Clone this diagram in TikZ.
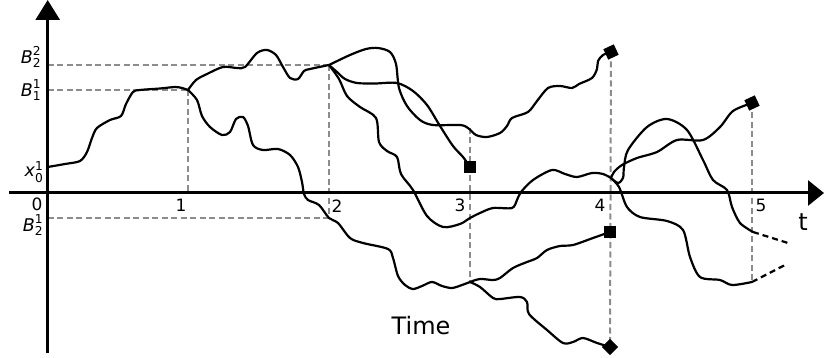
\documentclass[tikz,border=0pt]{standalone}
\usepackage{amsmath}
\usepackage{fontspec}
\setmainfont{DejaVu Sans}
\usetikzlibrary{arrows.meta}
\definecolor{guidegray}{RGB}{140,140,140}
\begin{document}
\begin{tikzpicture}[x=1pt,y=-1pt,
  guide/.style={draw=guidegray, line width=2pt, dash pattern=on 6pt off 3.5pt},
  walk/.style={draw=black, line width=2.2pt, line join=round, line cap=round},
  tail/.style={draw=black, line width=2.2pt, dash pattern=on 6pt off 4pt},
  axisline/.style={draw=black, line width=3pt},
  mk/.style={fill=black, inner sep=0pt, minimum size=11.5pt, rectangle},
  ticklbl/.style={font=\fontsize{17}{19}\selectfont, inner sep=0pt},
  ylbl/.style={font=\fontsize{17.5}{19}\selectfont, inner sep=0pt},
  biglbl/.style={font=\fontsize{24}{26}\selectfont, inner sep=0pt},
]
\useasboundingbox (0,0) rectangle (824,358);

% branch / end points
\coordinate (x0) at (47.7,167);
\coordinate (p1) at (188,90);
\coordinate (p2) at (329,65);
\coordinate (q2) at (329,218);
\coordinate (p3top) at (470,128);
\coordinate (p3low) at (470,282);
\coordinate (p4) at (611,178);
\coordinate (e5a) at (752,282);
\coordinate (e5b) at (753,232);
\coordinate (t5a) at (785,265);
\coordinate (t5b) at (788,243);
\coordinate (ax1) at (188,193);
\coordinate (yl65) at (47.7,65);
\coordinate (yl90) at (47.7,90);
\coordinate (yl218) at (47.7,218);
\coordinate (c3) at (470,167);
\coordinate (c4low) at (610,232);
\coordinate (c4bot) at (610,347);
\coordinate (c4top) at (611,52);
\coordinate (c5) at (752,103);

% guide lines
\draw[guide] (yl65) -- (p2);
\draw[guide] (yl90) -- (p1);
\draw[guide] (yl218) -- (q2);
\draw[guide] (p1) -- (ax1);
\draw[guide] (p2) -- (q2);
\draw[guide] (p3top) -- (p3low);
\draw[guide] (c4top) -- (c4bot);
\draw[guide] (c5) -- (e5a);

% axes
\coordinate (yb) at (47.7,353);
\coordinate (yt) at (47.7,0);
\coordinate (xl) at (9,193);
\coordinate (xr) at (824,193);
\draw[axisline, -{Triangle[width=24pt,length=20pt]}] (yb) -- (yt);
\draw[axisline, -{Triangle[width=25pt,length=16pt]}] (xl) -- (xr);

% path from x0 to t=1
\draw[walk] plot[smooth, tension=0.5] coordinates {
 (47.7,167) (65,164) (80,161) (87,152) (92,138) (97,128) (110,120) (121,116)
 (126,104) (133,92) (140,90) (160,88.5) (175,87) (182,88) (188,90)};

% t=1 upper branch to t=2
\draw[walk] plot[smooth, tension=0.5] coordinates {
 (188,90) (196,80) (207,74) (223,67) (237,68) (245,67) (257,53) (267,50)
 (276,55) (283,67) (290,78) (298,79) (304,71) (310,69) (329,65)};

% t=1 lower branch
\draw[walk] plot[smooth, tension=0.5] coordinates {
 (188,90) (197,100) (202,116) (210,127) (222,135) (230,132) (236,119) (243,117)
 (248,126) (253,145) (263,150) (278,149) (290,155) (298,167) (302,182) (304,194)
 (308,200) (319,205) (329,218) (338,223) (350,238) (363,243) (388,249) (393,258)
 (398,276) (405,285) (413,289) (422,286) (432,282) (442,286) (452,288) (462,285)
 (470,282)};

% t=3 lower -> up to square at t=4
\draw[walk] plot[smooth, tension=0.5] coordinates {
 (470,282) (480,279) (493,280) (500,278) (513,268) (527,262) (537,258) (547,250)
 (560,246) (573,245) (593,238) (610,232)};

% t=3 lower -> down to diamond at t=4
\draw[walk] plot[smooth, tension=0.5] coordinates {
 (470,282) (480,287) (493,298) (500,299) (520,297) (527,302) (529,314) (547,330)
 (563,343) (573,342) (583,338) (597,343) (610,347)};

% t=2 hump branch to top square at t=4
\draw[walk] plot[smooth, tension=0.5] coordinates {
 (329,65) (350,55) (366,49) (378,48) (390,52) (396,64) (399,88) (407,106)
 (420,120) (433,125) (460,125) (468,128) (476,135) (487,137) (500,133) (507,126)
 (512,118) (528,112) (537,101) (548,88) (560,86) (572,88) (579,84) (592,78)
 (597,69) (598,61) (603,55) (611,52)};

% t=2 branch to square at t=3
\draw[walk] plot[smooth, tension=0.5] coordinates {
 (329,65) (337,72) (345,79) (357,83) (375,83.5) (397,83) (413,91) (427,105)
 (440,126) (453,146) (463,157) (470,167)};

% t=2 branch down to t=4 point
\draw[walk] plot[smooth, tension=0.5] coordinates {
 (329,65) (339,79) (347,96) (360,107) (376,118) (379,142) (387,151) (397,157)
 (401,174) (413,190) (427,216) (443,227) (460,224) (470,218) (480,213) (493,208)
 (512,208) (517,200) (521,192) (533,180) (552,170) (565,174) (577,177) (592,173)
 (603,174) (611,178)};

% t=4 -> down, dashed tail
\draw[walk] plot[smooth, tension=0.5] coordinates {
 (611,178) (619,187) (627,207) (640,217) (667,221) (683,230) (690,257) (700,277)
 (720,280) (732,285) (752,282)};
\draw[tail] (e5a) -- (t5a);

% t=4 -> loop up and down, dashed tail
\draw[walk] plot[smooth, tension=0.5] coordinates {
 (611,178) (618,183) (623,178) (624,167) (628,150) (647,127) (667,119) (687,130)
 (703,160) (713,180) (727,190) (732,207) (740,223) (753,232)};
\draw[tail] (e5b) -- (t5b);

% t=4 -> up to square at t=5
\draw[walk] plot[smooth, tension=0.5] coordinates {
 (611,178) (614,172) (622,165) (637,158) (657,152) (677,140) (703,140) (720,127)
 (733,111) (752,103)};

% markers (on top)
\node[mk] (m3) at (c3) {};
\node[mk] (m4low) at (c4low) {};
\node[mk, rotate=45] (m4bot) at (c4bot) {};
\node[mk, rotate=25] (m4top) at (c4top) {};
\node[mk, rotate=25] (m5) at (c5) {};

% labels
\node[ylbl] (lb22) at (31,57) {$\textit{B}^{\text{2}}_{\text{2}}$};
\node[ylbl] (lb11) at (31,90) {$\textit{B}^{\text{1}}_{\text{1}}$};
\node[ylbl] (lx01) at (34,172) {$\textit{x}^{\text{1}}_{\text{0}}$};
\node[ylbl] (lb21) at (33,225) {$\textit{B}^{\text{1}}_{\text{2}}$};
\node[ticklbl] (t0) at (37,204) {0};
\node[ticklbl] (t1) at (181,205) {1};
\node[ticklbl] (t2) at (337,206) {2};
\node[ticklbl] (t3) at (460,205) {3};
\node[ticklbl] (t4) at (600,205) {4};
\node[ticklbl] (t5) at (761,205) {5};
\node[biglbl] (tl) at (803,222) {t};
\node[biglbl] (timel) at (421,326) {Time};
\end{tikzpicture}
\end{document}
